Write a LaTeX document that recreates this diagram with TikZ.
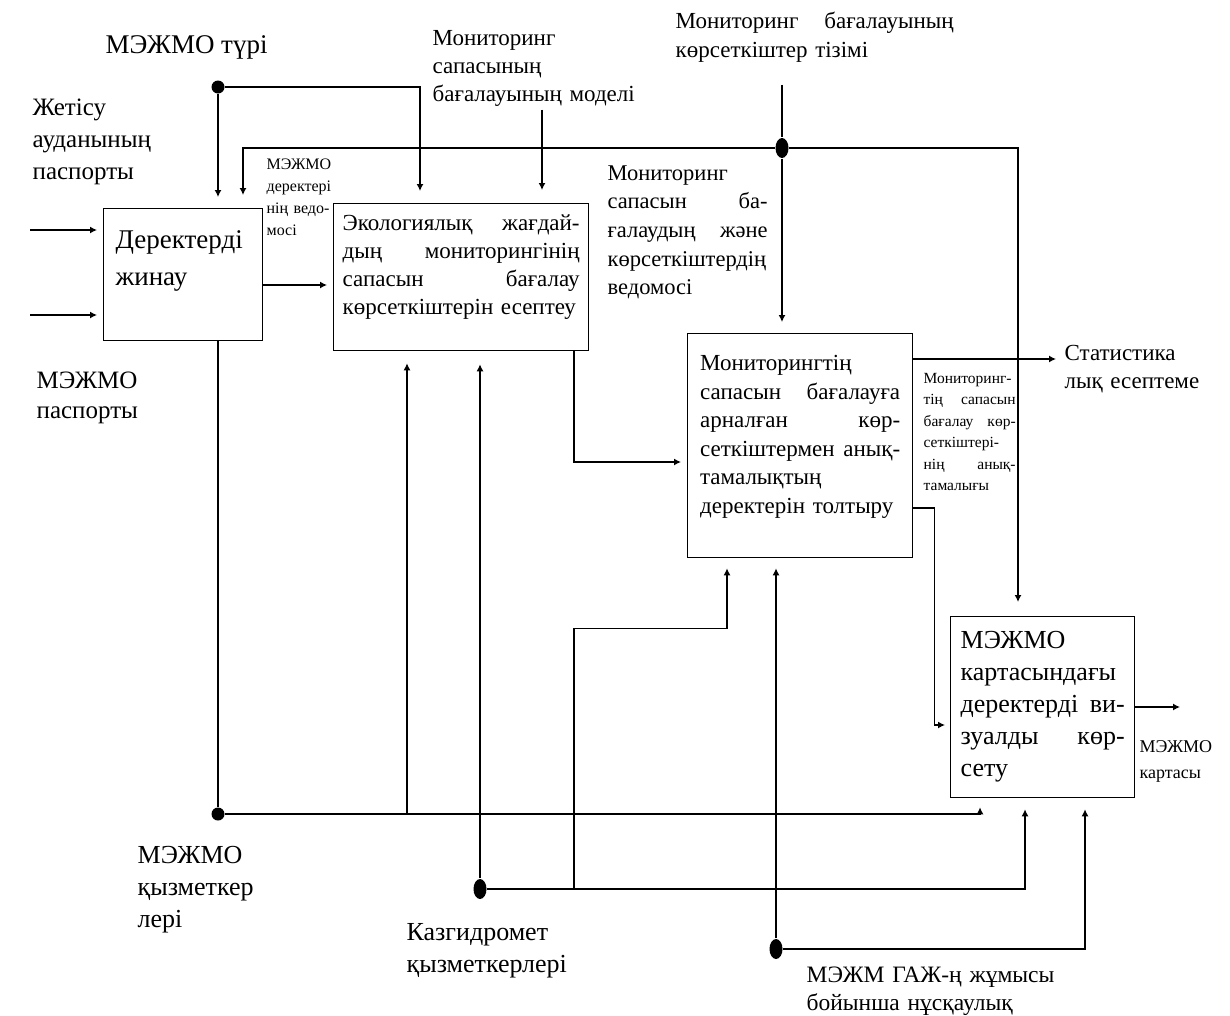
\documentclass[tikz,border=0pt]{standalone}
\usepackage{fontspec}
\setmainfont{Liberation Serif}
\usetikzlibrary{arrows.meta,positioning,shapes.geometric}

\begin{document}
\begin{tikzpicture}[x=1pt,y=-1pt,line width=1.3pt,>={Latex[length=7pt,width=7pt]},
  proc/.style={draw,anchor=north west,inner ysep=0pt,align=left},
  lbl/.style={anchor=base west,inner sep=0pt,align=left},
  dot/.style={circle,fill,inner sep=0pt,minimum size=13pt},
  odot/.style={ellipse,fill,inner sep=0pt,minimum width=13pt,minimum height=20pt}]
  \useasboundingbox (0,0) rectangle (1230,1015);

  \node[proc,inner xsep=12pt,text width=135pt,text height=40pt,text depth=92pt,
    font=\fontsize{27}{37}\selectfont] (collect) at (103,208) {Деректерді\\жинау};
  \node[proc,inner xsep=9pt,text width=237pt,text height=27pt,text depth=120pt,
    font=\fontsize{23}{28}\selectfont] (calc) at (333,203)
    {Экологиялық\hfill жағдай-\\дың\hfill мониторингінің\\сапасын\hfill бағалау\\көрсеткіштерін есептеу};
  \node[proc,inner xsep=12.5pt,text width=200pt,text height=37pt,text depth=187pt,
    font=\fontsize{23}{28.5}\selectfont] (fill) at (687,333)
    {Мониторингтің\\сапасын\hfill бағалауға\\арналған\hfill көр-\\сеткіштермен\hfill анық-\\тамалықтың\\деректерін толтыру};
  \node[proc,inner xsep=10pt,text width=164pt,text height=32pt,text depth=149pt,
    font=\fontsize{26}{32}\selectfont] (vis) at (950,616)
    {МЭЖМО\\картасындағы\\деректерді\hfill ви-\\зуалды\hfill көр-\\сету};

  \node[lbl,font=\fontsize{27}{32}\selectfont] (typeLbl) at (105,53) {МЭЖМО түрі};
  \node[lbl,text width=150pt,font=\fontsize{25}{32}\selectfont] (passLbl) at (32,115) {Жетісу\\ауданының\\паспорты};
  \node[lbl,text width=150pt,font=\fontsize{25}{30}\selectfont] (mpassLbl) at (36,388) {МЭЖМО\\паспорты};
  \node[lbl,text width=230pt,font=\fontsize{23}{28}\selectfont] (modelLbl) at (432,45) {Мониторинг\\сапасының\\бағалауының моделі};
  \node[lbl,text width=278pt,font=\fontsize{23}{29}\selectfont] (listLbl) at (675,28) {Мониторинг\hfill бағалауының\\көрсеткіштер тізімі};
  \node[lbl,text width=160pt,font=\fontsize{22.5}{28.7}\selectfont] (vedLbl) at (607,180)
    {Мониторинг\\сапасын\hfill ба-\\ғалаудың\hfill және\\көрсеткіштердің\\ведомосі};
  \node[lbl,text width=70pt,font=\fontsize{16}{22}\selectfont] (dataLbl) at (266,169) {МЭЖМО\\деректері\\нің ведо-\\мосі};
  \node[lbl,text width=150pt,font=\fontsize{23}{28}\selectfont] (statLbl) at (1064,360) {Статистика\\лық есептеме};
  \node[lbl,text width=92pt,font=\fontsize{15.5}{21.5}\selectfont] (refLbl) at (923,383)
    {\mbox{Мониторинг-}\\тің\hfill сапасын\\бағалау\hfill көр-\\сеткіштері-\\нің\hfill анық-\\тамалығы};
  \node[lbl,text width=80pt,font=\fontsize{18}{26}\selectfont] (mapLbl) at (1139,752) {МЭЖМО\\картасы};
  \node[lbl,text width=150pt,font=\fontsize{26}{32}\selectfont] (staffLbl) at (137,863) {МЭЖМО\\қызметкер\\лері};
  \node[lbl,text width=180pt,font=\fontsize{26}{32}\selectfont] (kazLbl) at (406,940) {Казгидромет\\қызметкерлері};
  \node[lbl,text width=260pt,font=\fontsize{23.5}{28}\selectfont] (gisLbl) at (806,982) {МЭЖМ ГАЖ-ң жұмысы\\бойынша нұсқаулық};

  \node[dot] (typeDot) at (218,87) {};
  \node[odot] (listDot) at (782,148) {};
  \node[dot] (staffDot) at (218,814) {};
  \node[odot] (kazDot) at (480,889) {};
  \node[odot] (gisDot) at (776,949) {};

  \coordinate (in1) at (30,230);
  \coordinate (in2) at (30,315);
  \coordinate (mapOut) at (1180,707);
  \coordinate (collectC2) at ([xshift=140pt]collect.north west);
  \coordinate (collectOut) at ([yshift=-77pt]collect.north east);
  \coordinate (calcC1) at ([xshift=87pt]calc.north west);
  \coordinate (calcC2) at ([xshift=209pt]calc.north west);
  \coordinate (calcM1) at ([xshift=74pt]calc.south west);
  \coordinate (calcOut) at ([xshift=241pt]calc.south west);
  \coordinate (fillIn) at ([yshift=-129pt]fill.north west);
  \coordinate (fillM1) at ([xshift=40pt]fill.south west);
  \coordinate (fillOut1) at ([yshift=-26pt]fill.north east);
  \coordinate (fillOut2) at ([yshift=-175pt]fill.north east);
  \coordinate (visC) at ([xshift=68pt]vis.north west);
  \coordinate (visIn) at ([yshift=-109pt]vis.north west);
  \coordinate (visOut) at ([yshift=-91pt]vis.north east);
  \coordinate (visM1) at ([xshift=30pt]vis.south west);
  \coordinate (visM2) at ([xshift=75pt]vis.south west);
  \coordinate (visM3) at ([xshift=135pt]vis.south west);

  \draw[->,shorten >=11pt] (typeDot) -- (typeDot |- collect.north);
  \draw[->,shorten >=12pt] (typeDot) -| (calcC1);
  \draw[->,shorten <=3pt,shorten >=13pt] (modelLbl.south -| calcC2) -- (calcC2);
  \draw[shorten <=22pt] (listDot |- listLbl.south) -- (listDot);
  \draw[->,shorten >=11pt] (listDot) -- (listDot |- fill.north);
  \draw[->,shorten >=13pt] (listDot) -| (collectC2);
  \draw[->,shorten >=14pt] (listDot) -| (visC);
  \draw[->,shorten >=6pt] (in1) -- (in1 -| collect.west);
  \draw[->,shorten >=6pt] (in2) -- (in2 -| collect.west);
  \draw[->,shorten >=6pt] (collectOut) -- (collectOut -| calc.west);
  \draw[->,shorten >=6pt] (calcOut) |- (fillIn);
  \draw[->,shorten >=8pt] (fillOut1) -- (fillOut1 -| statLbl.west);
  \draw[->,shorten >=5pt] (fillOut2) -- ++(21,0) |- (visIn);
  \draw[->] (visOut) -- (visOut -| mapOut);
  \draw (staffDot |- collect.south) -- (staffDot);
  \draw[->,shorten >=9pt] (staffDot) -| (visM1);
  \draw[->,shorten >=12pt] (staffDot -| calcM1) -- (calcM1);
  \draw[->,shorten >=13pt] (kazDot) -- (kazDot |- calc.south);
  \draw[->,shorten >=11pt] (kazDot) -| (visM2);
  \draw[->,shorten >=10pt] (kazDot -| calcOut) |- ([yshift=-70pt]fillM1) -- (fillM1);
  \draw[->,shorten >=10pt] (gisDot) -- (gisDot |- fill.south);
  \draw[->,shorten >=11pt] (gisDot) -| (visM3);
\end{tikzpicture}
\end{document}
